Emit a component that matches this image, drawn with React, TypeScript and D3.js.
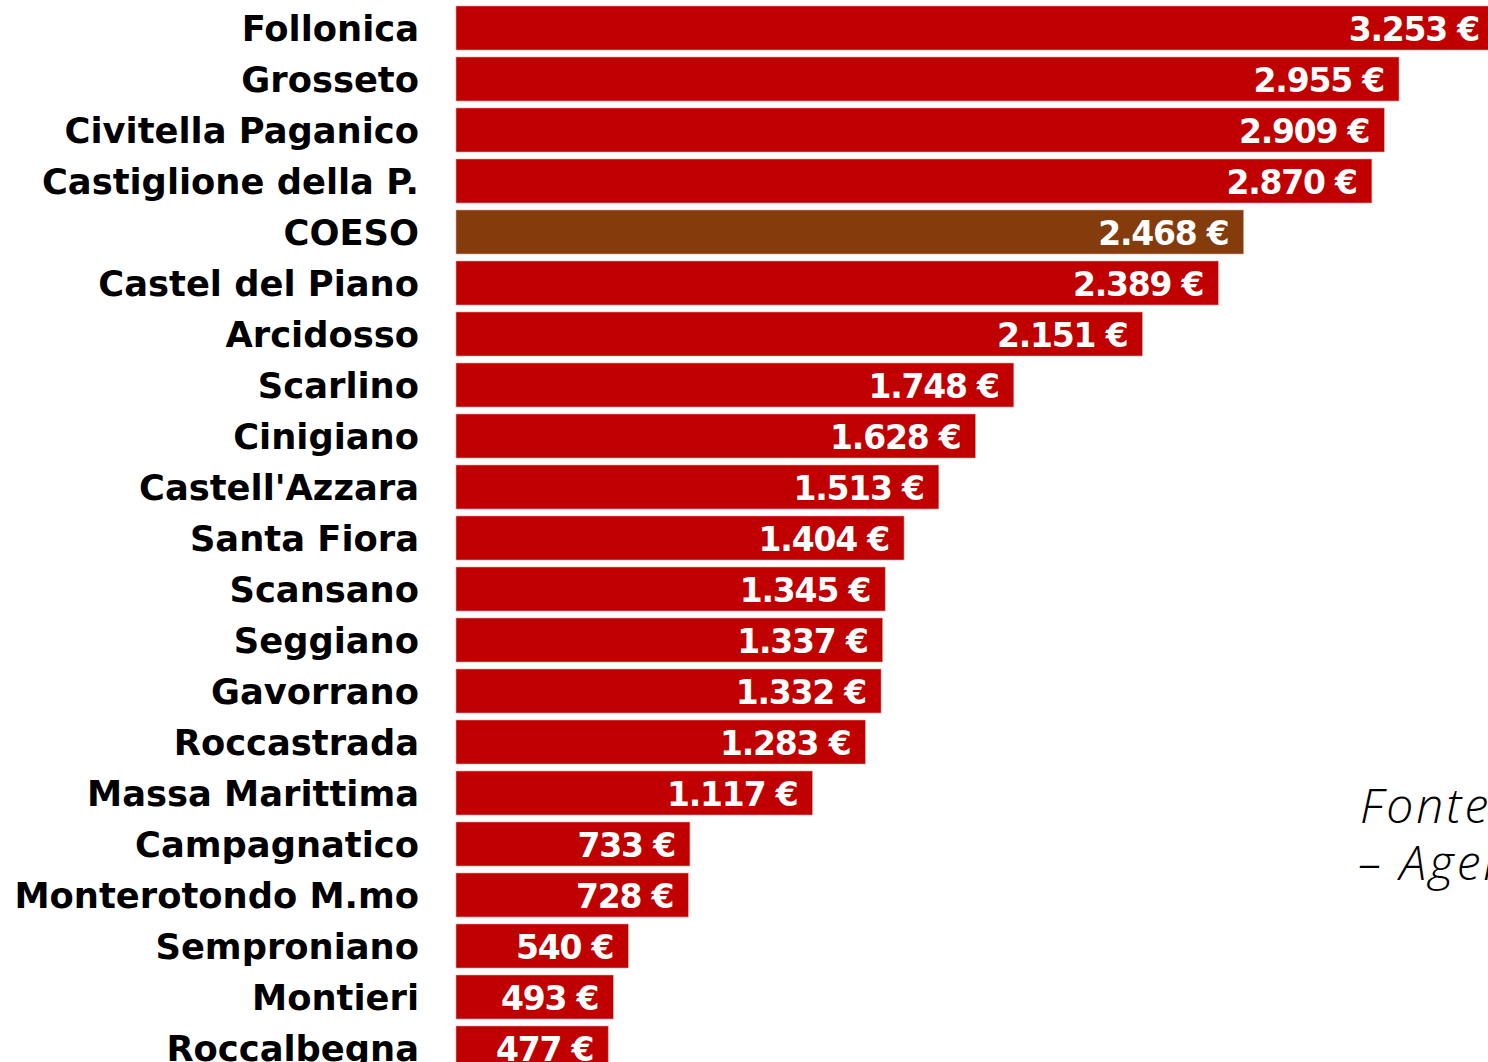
import React from "react";
import * as d3 from "d3";

const categories = [
  "Follonica", "Grosseto", "Civitella Paganico", "Castiglione della P.", "COESO",
  "Castel del Piano", "Arcidosso", "Scarlino", "Cinigiano", "Castell'Azzara",
  "Santa Fiora", "Scansano", "Seggiano", "Gavorrano", "Roccastrada",
  "Massa Marittima", "Campagnatico", "Monterotondo M.mo", "Semproniano", "Montieri", "Roccalbegna",
];
const values = [3253, 2955, 2909, 2870, 2468, 2389, 2151, 1748, 1628, 1513, 1404, 1345, 1337, 1332, 1283, 1117, 733, 728, 540, 493, 477];
const highlight = ["COESO"];
const sourceLines = ["Fonte: MEF", "– Agenzia delle Entrate"];

const fmt = (v: number) => d3.format(",")(v).replace(/,/g, ".") + " €";

export default function App() {
  const W = 1488, H = 1062;
  const x0 = 456;
  const x = d3.scaleLinear().domain([0, 2955]).range([0, 943]);
  const n = categories.length;
  const y = d3.scaleBand<string>().domain(categories).range([6, 6 + 51 * n - 7]).paddingInner(7 / 51).paddingOuter(0);
  const font = "'DejaVu Sans', sans-serif";
  return (
    <svg width={W} height={H} style={{ position: "fixed", top: 0, left: 0, display: "block", background: "#fff" }}>
      {categories.map((c, i) => {
        const yy = y(c)!;
        const bw = y.bandwidth();
        const w = x(values[i]);
        const cy = yy + bw / 2;
        return (
          <g key={c}>
            <rect x={x0} y={yy} width={w} height={bw} fill={highlight.includes(c) ? "#843C0C" : "#C00000"} stroke="#e8a0a0" strokeWidth={0.6} />
            <text x={419} y={cy + 12.5} textAnchor="end" fontFamily={font} fontWeight="bold" fontSize={35.3} fill="#000">{c}</text>
            <text x={x0 + w - 15} y={cy + 12.5} textAnchor="end" fontFamily={font} fontWeight="bold" fontSize={33} letterSpacing={-1.2} fill="#fff">{fmt(values[i])}</text>
          </g>
        );
      })}
      {sourceLines.map((s, i) => (
        <text key={i} x={i === 0 ? 1360 : 1358} y={823 + i * 57} fontFamily="'Open Sans', sans-serif" fontStyle="italic" fontWeight={300} fontSize={48} letterSpacing={3} fill="#000">{s}</text>
      ))}
    </svg>
  );
}
